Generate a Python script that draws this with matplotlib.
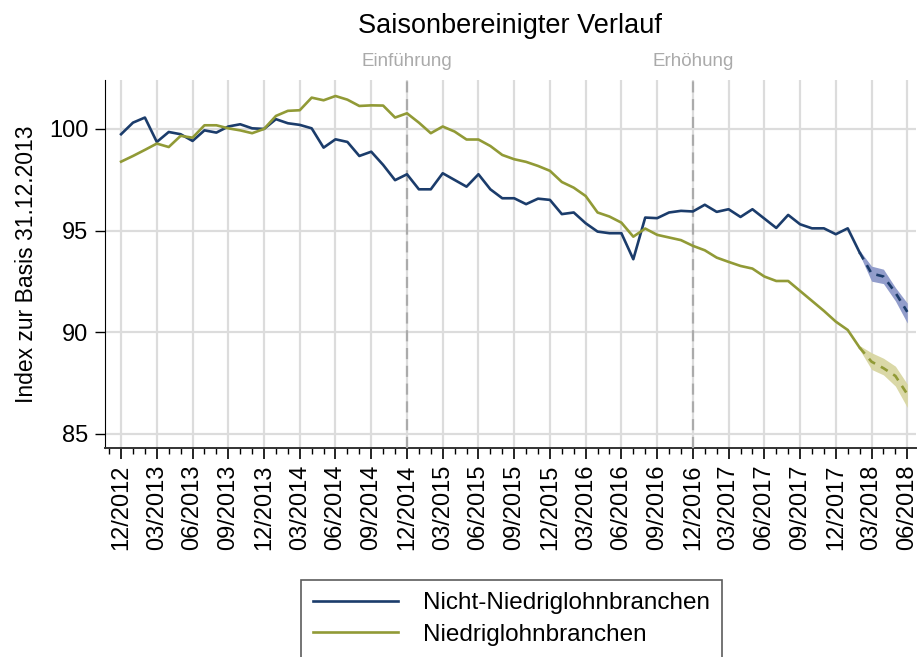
import numpy as np
import matplotlib
matplotlib.use('Agg')
import matplotlib.pyplot as plt
from matplotlib.ticker import MultipleLocator

plt.rcParams['font.family'] = ['Liberation Sans', 'DejaVu Sans']

# monthly index values, 12/2012 .. 06/2018
nicht_niedrig = [99.74, 100.31, 100.56, 99.36, 99.85, 99.74, 99.41, 99.93, 99.82, 100.12,
                 100.23, 100.03, 100.0, 100.48, 100.28, 100.2, 100.03, 99.08, 99.49, 99.36,
                 98.67, 98.88, 98.23, 97.48, 97.77, 97.03, 97.03, 97.82, 97.49, 97.16,
                 97.77, 97.03, 96.59, 96.59, 96.30, 96.57, 96.51, 95.81, 95.89, 95.36,
                 94.95, 94.87, 94.87, 93.59, 95.64, 95.61, 95.89, 95.97, 95.94, 96.27,
                 95.92, 96.05, 95.67, 96.05, 95.59, 95.13, 95.77, 95.31, 95.11, 95.11,
                 94.82, 95.11, 93.92, 92.89, 92.74, 91.95, 91.00]
niedrig = [98.39, 98.67, 98.97, 99.28, 99.11, 99.66, 99.57, 100.18, 100.18, 100.03,
           99.93, 99.79, 100.0, 100.64, 100.89, 100.92, 101.54, 101.41, 101.62, 101.44,
           101.13, 101.16, 101.15, 100.56, 100.77, 100.31, 99.79, 100.12, 99.87, 99.48,
           99.48, 99.16, 98.72, 98.51, 98.38, 98.18, 97.94, 97.39, 97.11, 96.70,
           95.89, 95.69, 95.39, 94.70, 95.10, 94.79, 94.66, 94.53, 94.25, 94.03,
           93.67, 93.46, 93.26, 93.13, 92.74, 92.52, 92.52, 92.03, 91.54, 91.05,
           90.52, 90.11, 89.24, 88.55, 88.23, 87.85, 86.95]

# forecast bands, 02/2018 .. 06/2018
nicht_upper = [94.02, 93.25, 93.10, 92.20, 91.43]
nicht_lower = [93.82, 92.51, 92.39, 91.54, 90.45]
niedrig_upper = [89.34, 88.99, 88.72, 88.33, 87.45]
niedrig_lower = [89.14, 88.17, 87.90, 87.35, 86.30]

tick_labels = ['12/2012', '03/2013', '06/2013', '09/2013', '12/2013', '03/2014',
               '06/2014', '09/2014', '12/2014', '03/2015', '06/2015', '09/2015',
               '12/2015', '03/2016', '06/2016', '09/2016', '12/2016', '03/2017',
               '06/2017', '09/2017', '12/2017', '03/2018', '06/2018']
events = ['Einführung', 'Erhöhung']
event_months = [24, 48]
forecast_start = 62

blue = '#1b3c6b'
green = '#919a36'

months = np.arange(len(nicht_niedrig))
fc = months[forecast_start:]

fig = plt.figure(figsize=(9.17, 6.57), dpi=100)
ax = fig.add_axes([0.1145, 0.318, 0.884, 0.56])

ax.fill_between(fc, nicht_lower, nicht_upper, color='#8c98c9', lw=0, alpha=0.95, zorder=2)
ax.fill_between(fc, niedrig_lower, niedrig_upper, color='#d8d6a2', lw=0, alpha=0.95, zorder=2)

ax.plot(months[:forecast_start + 1], nicht_niedrig[:forecast_start + 1], color=blue, lw=1.9,
        zorder=4, label='Nicht-Niedriglohnbranchen')
ax.plot(months[:forecast_start + 1], niedrig[:forecast_start + 1], color=green, lw=1.9,
        zorder=4, label='Niedriglohnbranchen')
ax.plot(fc, nicht_niedrig[forecast_start:], color=blue, lw=1.9, ls=(0, (3, 2.5)), zorder=4)
ax.plot(fc, niedrig[forecast_start:], color=green, lw=1.9, ls=(0, (3, 2.5)), zorder=4)

for m, name in zip(event_months, events):
    ax.axvline(m, color='#ababab', lw=1.6, ls=(0, (5, 3)), zorder=3)
    ax.text(m, 103.3, name, color='#aaaaaa', fontsize=13.5, ha='center', va='center')

ax.set_xlim(-1.35, 66.7)
ax.set_ylim(84.3, 102.4)
ax.set_xticks(np.arange(0, len(months), 3))
ax.set_xticklabels(tick_labels, rotation=90, fontsize=17)
ax.xaxis.set_minor_locator(MultipleLocator(1))
ax.set_yticks([85, 90, 95, 100])
ax.tick_params(axis='y', labelsize=17, length=7, width=1, pad=5)
ax.tick_params(axis='x', which='major', length=8, width=1.2, pad=4)
ax.tick_params(axis='x', which='minor', length=4, width=1)
ax.grid(True, color='#dcdcdc', lw=1.6, zorder=0)
ax.set_axisbelow(True)
for s in ['top', 'right']:
    ax.spines[s].set_visible(False)
ax.spines['bottom'].set_color('#333333')
ax.spines['bottom'].set_linewidth(1.4)

ax.set_ylabel('Index zur Basis 31.12.2013', fontsize=16.5, labelpad=8)
ax.set_title('Saisonbereinigter Verlauf', fontsize=19.5, pad=34)

leg = fig.legend(loc='upper left', bbox_to_anchor=(301 / 917, 1 - 580 / 657), fontsize=17.5,
                 frameon=True, fancybox=False, edgecolor='#333333', handlelength=3.5,
                 handletextpad=1.0, borderpad=0.5, labelspacing=0.4, borderaxespad=0)
leg.get_frame().set_linewidth(1.2)

fig.savefig('out.png', dpi=100)
